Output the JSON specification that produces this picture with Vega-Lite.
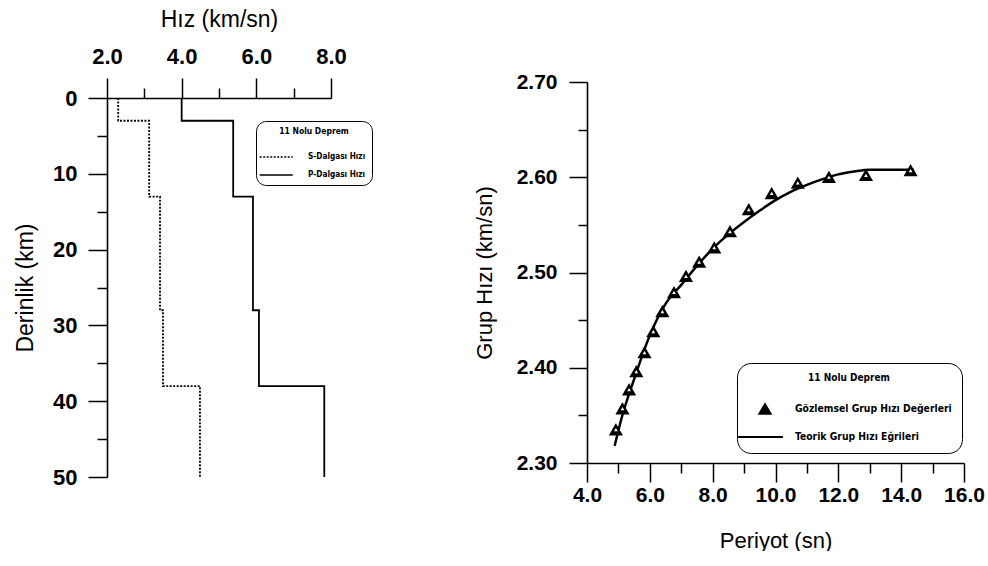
{
  "$schema": "https://vega.github.io/schema/vega-lite/v6.json",
  "background": "white",
  "padding": {"left": 14, "top": 8, "right": 0, "bottom": 0},
  "align": "none",
  "spacing": 126,
  "config": {
    "view": {"stroke": null},
    "font": "Liberation Sans",
    "axis": {
      "domainColor": "black", "domainWidth": 1.6, "tickColor": "black", "tickWidth": 1.5,
      "labelColor": "black", "titleColor": "black", "grid": false,
      "labelFont": "Liberation Sans", "titleFont": "Liberation Sans",
      "labelFontWeight": "bold", "titleFontWeight": "normal",
      "labelOverlap": false, "labelFlush": false, "labelBound": false
    }
  },
  "datasets": {
    "profile": [
      {"wave": "S-Dalgası Hızı", "depth": 0, "velocity": 2.30},
      {"wave": "S-Dalgası Hızı", "depth": 3, "velocity": 3.13},
      {"wave": "S-Dalgası Hızı", "depth": 13, "velocity": 3.42},
      {"wave": "S-Dalgası Hızı", "depth": 28, "velocity": 3.50},
      {"wave": "S-Dalgası Hızı", "depth": 38, "velocity": 4.49},
      {"wave": "S-Dalgası Hızı", "depth": 50, "velocity": 4.49},
      {"wave": "P-Dalgası Hızı", "depth": 0, "velocity": 4.00},
      {"wave": "P-Dalgası Hızı", "depth": 3, "velocity": 5.38},
      {"wave": "P-Dalgası Hızı", "depth": 13, "velocity": 5.91},
      {"wave": "P-Dalgası Hızı", "depth": 28, "velocity": 6.07},
      {"wave": "P-Dalgası Hızı", "depth": 38, "velocity": 7.82},
      {"wave": "P-Dalgası Hızı", "depth": 50, "velocity": 7.82}
    ],
    "obs": [
      {"series": "Gözlemsel Grup Hızı Değerleri", "period": 4.92, "u": 2.335},
      {"series": "Gözlemsel Grup Hızı Değerleri", "period": 5.13, "u": 2.357},
      {"series": "Gözlemsel Grup Hızı Değerleri", "period": 5.34, "u": 2.377},
      {"series": "Gözlemsel Grup Hızı Değerleri", "period": 5.57, "u": 2.396},
      {"series": "Gözlemsel Grup Hızı Değerleri", "period": 5.83, "u": 2.416},
      {"series": "Gözlemsel Grup Hızı Değerleri", "period": 6.11, "u": 2.438},
      {"series": "Gözlemsel Grup Hızı Değerleri", "period": 6.40, "u": 2.459},
      {"series": "Gözlemsel Grup Hızı Değerleri", "period": 6.77, "u": 2.479},
      {"series": "Gözlemsel Grup Hızı Değerleri", "period": 7.15, "u": 2.496},
      {"series": "Gözlemsel Grup Hızı Değerleri", "period": 7.57, "u": 2.511},
      {"series": "Gözlemsel Grup Hızı Değerleri", "period": 8.05, "u": 2.526},
      {"series": "Gözlemsel Grup Hızı Değerleri", "period": 8.55, "u": 2.543},
      {"series": "Gözlemsel Grup Hızı Değerleri", "period": 9.15, "u": 2.566},
      {"series": "Gözlemsel Grup Hızı Değerleri", "period": 9.88, "u": 2.583},
      {"series": "Gözlemsel Grup Hızı Değerleri", "period": 10.71, "u": 2.594},
      {"series": "Gözlemsel Grup Hızı Değerleri", "period": 11.70, "u": 2.600},
      {"series": "Gözlemsel Grup Hızı Değerleri", "period": 12.88, "u": 2.602},
      {"series": "Gözlemsel Grup Hızı Değerleri", "period": 14.30, "u": 2.607}
    ],
    "theory": [
      {"period": 4.88, "u": 2.318},
      {"period": 5.10, "u": 2.347},
      {"period": 5.50, "u": 2.388},
      {"period": 6.00, "u": 2.434},
      {"period": 6.50, "u": 2.467},
      {"period": 7.00, "u": 2.487},
      {"period": 7.50, "u": 2.507},
      {"period": 8.00, "u": 2.525},
      {"period": 8.50, "u": 2.540},
      {"period": 9.00, "u": 2.553},
      {"period": 9.50, "u": 2.565},
      {"period": 10.00, "u": 2.576},
      {"period": 10.50, "u": 2.585},
      {"period": 11.00, "u": 2.592},
      {"period": 11.50, "u": 2.598},
      {"period": 12.00, "u": 2.603},
      {"period": 12.50, "u": 2.606},
      {"period": 13.00, "u": 2.608},
      {"period": 13.50, "u": 2.608},
      {"period": 14.00, "u": 2.608},
      {"period": 14.40, "u": 2.608}
    ]
  },
  "hconcat": [
    {
      "width": 224,
      "height": 395,
      "data": {"name": "profile"},
      "mark": {"type": "line", "interpolate": "step-before", "color": "black", "strokeWidth": 1.8},
      "encoding": {
        "x": {
          "field": "velocity", "type": "quantitative",
          "scale": {"domain": [2, 8], "nice": false, "zero": false},
          "axis": {
            "orient": "top", "title": "Hız (km/sn)", "offset": -16,
            "values": [2, 3, 4, 5, 6, 7, 8],
            "labelExpr": "datum.value % 2 == 0 ? format(datum.value, '.1f') : ''",
            "tickSize": {"condition": {"test": "datum.value % 2 != 0", "value": 10}, "value": 20},
            "labelFontSize": 22, "titleFontSize": 23, "labelPadding": 10, "titlePadding": 14
          }
        },
        "y": {
          "field": "depth", "type": "quantitative",
          "scale": {"domain": [0, 50], "range": [16, 395], "nice": false},
          "axis": {
            "title": "Derinlik (km)",
            "values": [0, 5, 10, 15, 20, 25, 30, 35, 40, 45, 50],
            "labelExpr": "datum.value % 10 == 0 ? datum.label : ''",
            "tickSize": {"condition": {"test": "datum.value % 10 != 0", "value": 10}, "value": 19},
            "labelFontSize": 22, "titleFontSize": 23, "labelPadding": 11, "titlePadding": 15
          }
        },
        "order": {"field": "depth", "type": "quantitative"},
        "strokeDash": {
          "field": "wave", "type": "nominal",
          "scale": {"domain": ["S-Dalgası Hızı", "P-Dalgası Hızı"], "range": [[2, 1.5], [1, 0]]},
          "legend": {
            "title": "11 Nolu Deprem",
            "orient": "none", "legendX": 149, "legendY": 39, "direction": "vertical",
            "strokeColor": "black", "cornerRadius": 10, "fillColor": "white", "padding": 6,
            "titleFont": "DejaVu Sans Condensed", "titleFontSize": 8.5, "titleFontWeight": "bold",
            "titleAnchor": "middle", "titlePadding": 15, "titleColor": "black",
            "labelFont": "DejaVu Sans Condensed", "labelFontSize": 8.2, "labelFontWeight": "bold", "labelColor": "black",
            "labelLimit": 300,
            "symbolType": "M-1.6,0H4.4", "symbolSize": 121, "symbolStrokeWidth": 1.3, "symbolStrokeColor": "black",
            "rowPadding": 8, "labelOffset": 33
          }
        }
      }
    },
    {
      "width": 377,
      "height": 381,
      "encoding": {
        "x": {
          "field": "period", "type": "quantitative",
          "scale": {"domain": [4, 16], "nice": false, "zero": false},
          "axis": {
            "title": "Periyot (sn)",
            "values": [4, 5, 6, 7, 8, 9, 10, 11, 12, 13, 14, 15, 16],
            "labelExpr": "datum.value % 2 == 0 ? format(datum.value, '.1f') : ''",
            "tickSize": {"condition": {"test": "datum.value % 2 != 0", "value": 10}, "value": 19},
            "labelFontSize": 21, "titleFontSize": 22, "labelPadding": 2, "titlePadding": 25
          }
        },
        "y": {
          "field": "u", "type": "quantitative",
          "scale": {"domain": [2.3, 2.7], "nice": false, "zero": false},
          "axis": {
            "title": "Grup Hızı (km/sn)",
            "values": [2.3, 2.35, 2.4, 2.45, 2.5, 2.55, 2.6, 2.65, 2.7],
            "labelExpr": "round(datum.value * 100) % 10 == 0 ? format(datum.value, '.2f') : ''",
            "tickSize": {"condition": {"test": "round(datum.value * 100) % 10 != 0", "value": 9}, "value": 18},
            "labelFontSize": 21, "titleFontSize": 22, "labelPadding": 12, "titlePadding": 20
          }
        }
      },
      "layer": [
        {
          "data": {"name": "theory"},
          "mark": {"type": "line", "interpolate": "monotone", "color": "black", "strokeWidth": 2.5}
        },
        {
          "data": {"name": "obs"},
          "mark": {"type": "point", "filled": true, "strokeWidth": 1.6, "size": 130, "opacity": 1},
          "encoding": {
            "shape": {
              "field": "series", "type": "nominal",
              "scale": {"domain": ["Gözlemsel Grup Hızı Değerleri", "Teorik Grup Hızı Eğrileri"], "range": ["triangle-up", "M-4.8,0H3.2"]},
              "legend": {
                "title": "11 Nolu Deprem",
                "orient": "none", "legendX": 630, "legendY": 281, "direction": "vertical",
                "strokeColor": "black", "cornerRadius": 14, "fillColor": "white", "padding": 10,
                "titleFont": "DejaVu Sans Condensed", "titleFontSize": 10, "titleFontWeight": "bold",
                "titleAnchor": "middle", "titlePadding": 19, "titleColor": "black",
                "labelFont": "DejaVu Sans Condensed", "labelFontSize": 10.3, "labelFontWeight": "bold", "labelColor": "black",
                "labelLimit": 400,
                "symbolSize": 126, "symbolOffset": 11, "labelOffset": 23, "rowPadding": 12,
                "symbolStrokeWidth": 2
              }
            },
            "fill": {
              "field": "series", "type": "nominal",
              "scale": {"domain": ["Gözlemsel Grup Hızı Değerleri", "Teorik Grup Hızı Eğrileri"], "range": ["black", "black"]},
              "legend": {
                "title": "11 Nolu Deprem",
                "orient": "none", "legendX": 630, "legendY": 281, "direction": "vertical",
                "strokeColor": "black", "cornerRadius": 14, "fillColor": "white", "padding": 10,
                "titleFont": "DejaVu Sans Condensed", "titleFontSize": 10, "titleFontWeight": "bold",
                "titleAnchor": "middle", "titlePadding": 19, "titleColor": "black",
                "labelFont": "DejaVu Sans Condensed", "labelFontSize": 10.3, "labelFontWeight": "bold", "labelColor": "black",
                "labelLimit": 400,
                "symbolSize": 126, "symbolOffset": 11, "labelOffset": 23, "rowPadding": 12,
                "symbolStrokeWidth": 2
              }
            },
            "stroke": {
              "field": "series", "type": "nominal",
              "scale": {"domain": ["Gözlemsel Grup Hızı Değerleri", "Teorik Grup Hızı Eğrileri"], "range": ["black", "black"]},
              "legend": {
                "title": "11 Nolu Deprem",
                "orient": "none", "legendX": 630, "legendY": 281, "direction": "vertical",
                "strokeColor": "black", "cornerRadius": 14, "fillColor": "white", "padding": 10,
                "titleFont": "DejaVu Sans Condensed", "titleFontSize": 10, "titleFontWeight": "bold",
                "titleAnchor": "middle", "titlePadding": 19, "titleColor": "black",
                "labelFont": "DejaVu Sans Condensed", "labelFontSize": 10.3, "labelFontWeight": "bold", "labelColor": "black",
                "labelLimit": 400,
                "symbolSize": 126, "symbolOffset": 11, "labelOffset": 23, "rowPadding": 12,
                "symbolStrokeWidth": 2
              }
            }
          }
        },
        {
          "data": {"name": "obs"},
          "mark": {"type": "point", "shape": "triangle-up", "filled": true, "color": "white", "size": 14, "opacity": 1}
        }
      ]
    }
  ]
}
